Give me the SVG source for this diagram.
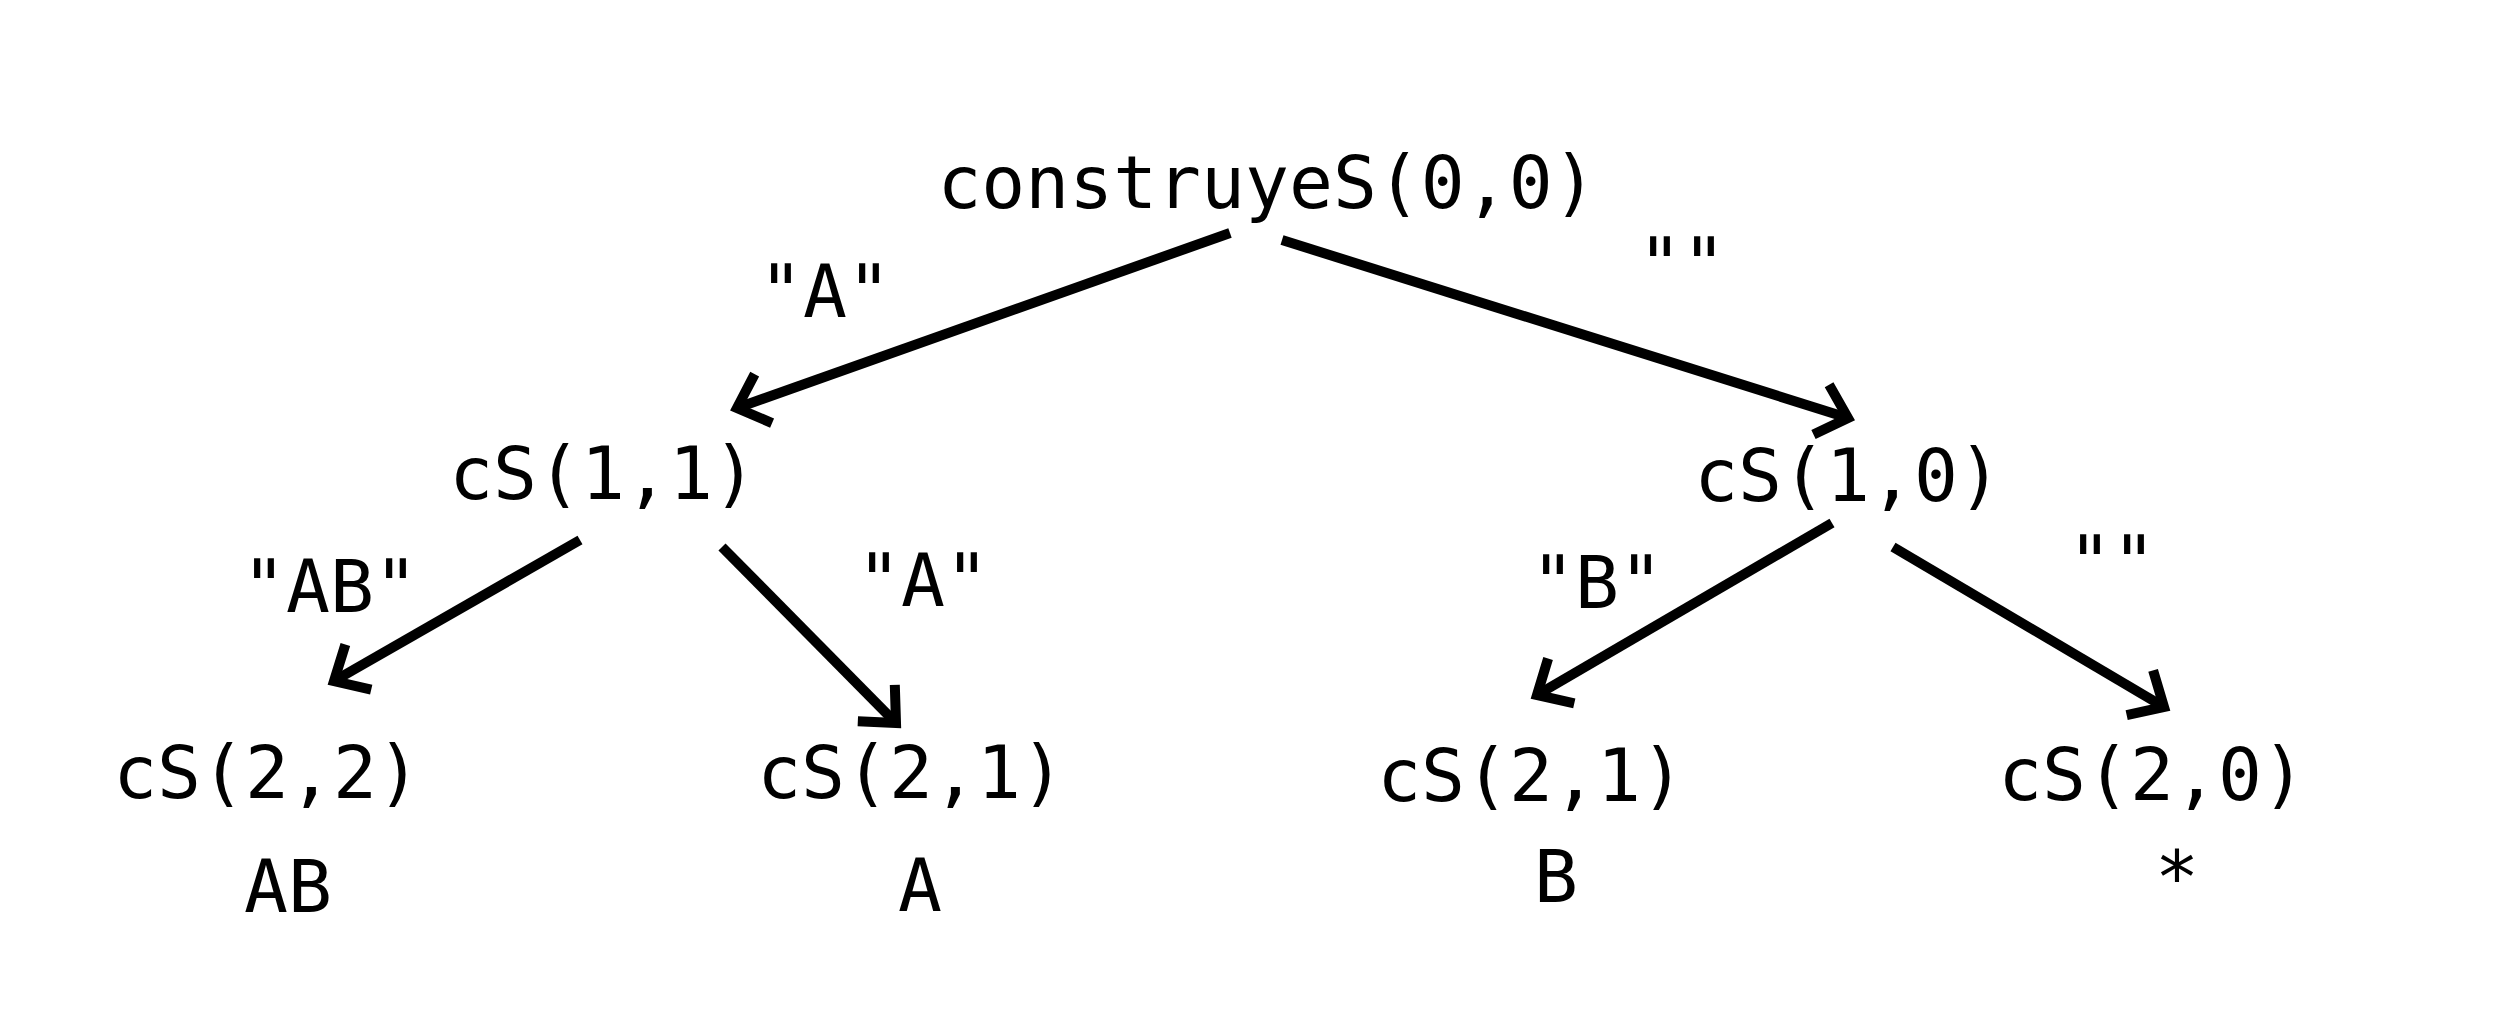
<svg xmlns="http://www.w3.org/2000/svg" width="2500" height="1024" viewBox="0 0 2500 1024">
<style>
text{font-family:"DejaVu Sans Mono","Liberation Mono",monospace;font-size:73px;fill:#000;text-anchor:middle}
.edge{stroke:#000;stroke-width:10;fill:none;marker-end:url(#arr)}
</style>
<defs>
<marker id="arr" markerUnits="userSpaceOnUse" orient="auto" markerWidth="80" markerHeight="80" refX="0" refY="0" viewBox="-40 -40 80 80" overflow="visible">
<path d="M -28,-26 L 0,0 L -28,26" fill="none" stroke="#000" stroke-width="10" stroke-linejoin="miter" stroke-miterlimit="10"/>
</marker>
</defs>
<rect width="2500" height="1024" fill="#fff"/>
<g id="connectors">
<line class="edge" x1="1230" y1="233" x2="737" y2="408"/>
<line class="edge" x1="1282" y1="240" x2="1848" y2="418"/>
<line class="edge" x1="580" y1="540" x2="334" y2="681"/>
<line class="edge" x1="722" y1="547" x2="896" y2="723"/>
<line class="edge" x1="1832" y1="523" x2="1537" y2="695"/>
<line class="edge" x1="1893" y1="547" x2="2164" y2="707"/>
<text x="825" y="317">"A"</text>
<text x="1682" y="290">""</text>
<text x="330" y="612">"AB"</text>
<text x="923" y="606">"A"</text>
<text x="1597" y="608">"B"</text>
<text x="2112" y="588">""</text>
</g>
<g id="n-root"><text x="1267" y="208">construyeS(0,0)</text></g>
<g id="n-cs11"><text x="603" y="499">cS(1,1)</text></g>
<g id="n-cs10"><text x="1848" y="501">cS(1,0)</text></g>
<g id="n-cs22"><text x="267" y="798">cS(2,2)</text><text x="288" y="912">AB</text></g>
<g id="n-cs21a"><text x="911" y="798">cS(2,1)</text><text x="920" y="911">A</text></g>
<g id="n-cs21b"><text x="1531" y="801">cS(2,1)</text><text x="1556" y="902">B</text></g>
<g id="n-cs20"><text x="2152" y="800">cS(2,0)</text><text x="2177" y="903">*</text></g>
</svg>
